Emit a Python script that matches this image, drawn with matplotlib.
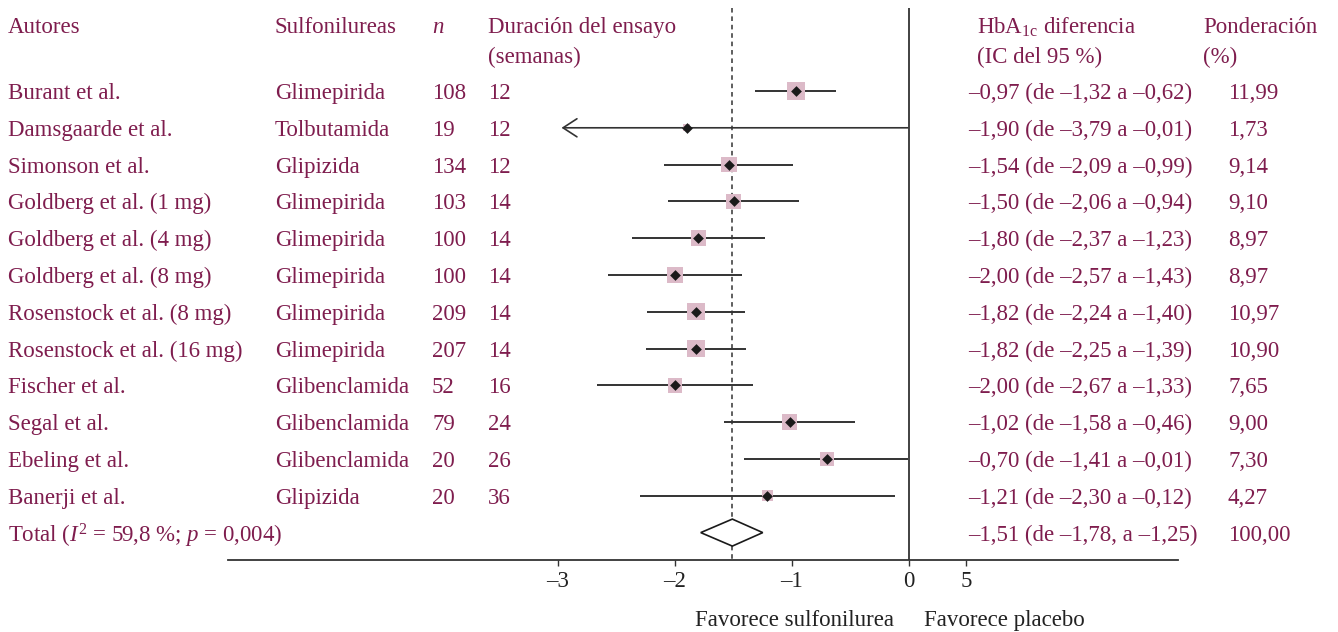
import numpy as np
import matplotlib
matplotlib.use('Agg')
import matplotlib.pyplot as plt
import matplotlib.transforms as mtransforms

plt.rcParams['font.family'] = ['Liberation Serif', 'DejaVu Serif']
plt.rcParams['mathtext.fontset'] = 'custom'
plt.rcParams['mathtext.rm'] = 'Liberation Serif'
plt.rcParams['mathtext.it'] = 'Liberation Serif:italic'

# datos de los ensayos
autores = ["Burant et al.", "Damsgaarde et al.", "Simonson et al.",
           "Goldberg et al. (1 mg)", "Goldberg et al. (4 mg)", "Goldberg et al. (8 mg)",
           "Rosenstock et al. (8 mg)", "Rosenstock et al. (16 mg)", "Fischer et al.",
           "Segal et al.", "Ebeling et al.", "Banerji et al."]
farmacos = ["Glimepirida", "Tolbutamida", "Glipizida", "Glimepirida", "Glimepirida",
            "Glimepirida", "Glimepirida", "Glimepirida", "Glibenclamida",
            "Glibenclamida", "Glibenclamida", "Glipizida"]
n_pac = [108, 19, 134, 103, 100, 100, 209, 207, 52, 79, 20, 20]
semanas = [12, 12, 12, 14, 14, 14, 14, 14, 16, 24, 26, 36]
diferencia = [-0.97, -1.90, -1.54, -1.50, -1.80, -2.00, -1.82, -1.82, -2.00, -1.02, -0.70, -1.21]
ic_inf = [-1.32, -3.79, -2.09, -2.06, -2.37, -2.57, -2.24, -2.25, -2.67, -1.58, -1.41, -2.30]
ic_sup = [-0.62, -0.01, -0.99, -0.94, -1.23, -1.43, -1.40, -1.39, -1.33, -0.46, -0.01, -0.12]
peso = [11.99, 1.73, 9.14, 9.10, 8.97, 8.97, 10.97, 10.90, 7.65, 9.00, 7.30, 4.27]

total_dif, total_inf, total_sup, total_peso = -1.51, -1.78, -1.25, 100.00
total_label = r"Total ($I^{2}$ = 59,8 %; $p$ = 0,004)"

ticks = [-3, -2, -1, 0, 0.49]
tick_labels = ["\u20133", "\u20132", "\u20131", "0", "5"]
x_min_vis = -2.97  # límite izquierdo dibujado (flecha)

granate = '#7f1d4e'
rosa = '#dcbac8'
gris = '#333333'
fs = 16.5


def fmt(v):
    return f"{v:.2f}".replace('.', ',').replace('-', '\u2013')


W, H = 1338, 632
fig = plt.figure(figsize=(W / 100, H / 100), dpi=100)
ax = fig.add_axes([228 / W, (H - 560) / H, 950 / W, 560 / H])
ax.set_xlim((228 - 909) / 117, (1178 - 909) / 117)
row_h = 36.8
ax.set_ylim((560 - 91) / row_h, -91 / row_h)

for s in ['top', 'left', 'right']:
    ax.spines[s].set_visible(False)
ax.spines['bottom'].set_color(gris)
ax.spines['bottom'].set_linewidth(1.3)
ax.set_yticks([])
ax.set_xticks(ticks)
ax.set_xticklabels(tick_labels)
ax.tick_params(axis='x', direction='out', length=4, width=1, color=gris,
               labelsize=fs, labelcolor='#222222', pad=4)

nrows = len(autores)
y = np.arange(nrows)
y_top = -83 / row_h
y_bot = (560 - 91) / row_h

# líneas de referencia
ax.vlines(0, y_top, y_bot, color=gris, lw=1.3)
ax.vlines(total_dif, y_top, y_bot, color=gris, lw=1.1, linestyles=(0, (3, 2.5)))

# intervalos de confianza
for i in range(nrows):
    lo = ic_inf[i]
    if lo < x_min_vis:
        ax.annotate('', xy=(x_min_vis, y[i]), xytext=(ic_sup[i], y[i]),
                    arrowprops=dict(arrowstyle='->,head_length=1.0,head_width=0.65',
                                    color=gris, lw=1.2, shrinkA=0, shrinkB=0))
    else:
        ax.hlines(y[i], lo, ic_sup[i], color=gris, lw=1.4)

# cuadrados según ponderación y estimación puntual
ax.scatter(diferencia, y, s=np.array(peso) * 14.0, marker='s', color=rosa,
           zorder=3, linewidths=0)
ax.scatter(diferencia, y, s=30, marker='D', color='#1a1a1a', zorder=4, linewidths=0)

# diamante del total
yt = nrows
h = 13.5 / row_h
ax.fill([total_inf, total_dif, total_sup, total_dif], [yt, yt - h, yt, yt + h],
        facecolor='white', edgecolor='#1a1a1a', lw=1.2, zorder=3)

# columnas de texto
tr = mtransforms.blended_transform_factory(fig.transFigure, ax.transData)
col = {'aut': 8 / W, 'sulf': 275 / W, 'n': 432 / W, 'dur': 488 / W,
       'ic': 968 / W, 'hba': 977 / W, 'pond_h': 1203 / W, 'pond': 1228 / W}
kw = dict(transform=tr, color=granate, fontsize=fs, va='center_baseline', ha='left',
          clip_on=False)

h1 = -66 / row_h
h2 = -36 / row_h
ax.text(col['aut'], h1, "Autores", **kw)
ax.text(col['sulf'], h1, "Sulfonilureas", **kw)
ax.text(col['n'], h1, "n", style='italic', **kw)
ax.text(col['dur'], h1, "Duración del ensayo", **kw)
ax.text(col['dur'], h2, "(semanas)", **kw)
ax.text(col['hba'], h1, r"HbA$_{\mathrm{1c}}$ diferencia", **kw)
ax.text(col['hba'], h2, "(IC del 95 %)", **kw)
ax.text(col['pond_h'], h1, "Ponderación", **kw)
ax.text(col['pond_h'], h2, "(%)", **kw)

for i in range(nrows):
    ax.text(col['aut'], y[i], autores[i], **kw)
    ax.text(col['sulf'], y[i], farmacos[i], **kw)
    ax.text(col['n'], y[i], str(n_pac[i]), **kw)
    ax.text(col['dur'], y[i], str(semanas[i]), **kw)
    ax.text(col['ic'], y[i], f"{fmt(diferencia[i])} (de {fmt(ic_inf[i])} a {fmt(ic_sup[i])})", **kw)
    ax.text(col['pond'], y[i], fmt(peso[i]), **kw)

ax.text(col['aut'], yt, total_label, **kw)
ax.text(col['ic'], yt, f"{fmt(total_dif)} (de {fmt(total_inf)}, a {fmt(total_sup)})", **kw)
ax.text(col['pond'], yt, fmt(total_peso), **kw)

# rótulos inferiores
yf = (618 - 91) / row_h
ax.text(-0.13, yf, "Favorece sulfonilurea", color='#222222', fontsize=fs,
        ha='right', va='center_baseline', clip_on=False)
ax.text(0.13, yf, "Favorece placebo", color='#222222', fontsize=fs,
        ha='left', va='center_baseline', clip_on=False)

fig.savefig('out.png', dpi=100)
